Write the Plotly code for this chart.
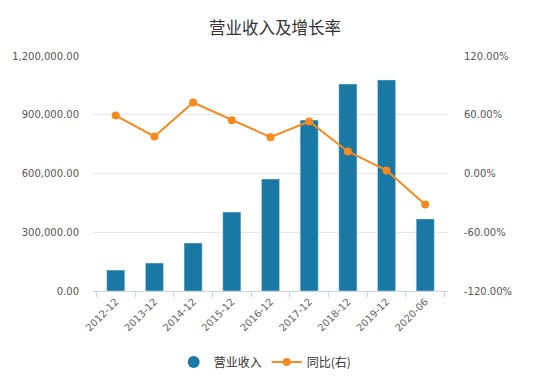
import plotly.graph_objects as go

categories = ["2012-12", "2013-12", "2014-12", "2015-12", "2016-12", "2017-12", "2018-12", "2019-12", "2020-06"]
revenue = [107000, 143000, 245000, 403000, 572000, 873000, 1057000, 1078000, 368000]
yoy = [59.2, 37.8, 72.5, 54.4, 37.1, 53.1, 22.5, 3.1, -31.7]
left_ticks = [0, 300000, 600000, 900000, 1200000]
left_labels = ["0.00", "300,000.00", "600,000.00", "900,000.00", "1,200,000.00"]
right_ticks = [-120, -60, 0, 60, 120]
right_labels = ["-120.00%", "-60.00%", "0.00%", "60.00%", "120.00%"]

bar_color = "#1a78a5"
line_color = "#f58a1f"
font = "DejaVu Sans, Noto Sans CJK SC, sans-serif"
cjk = "Noto Sans CJK SC, DejaVu Sans, sans-serif"

fig = go.Figure()
fig.add_trace(go.Bar(x=categories, y=revenue, name="营业收入", marker_color=bar_color,
                     width=0.47, showlegend=False, yaxis="y"))
fig.add_trace(go.Scatter(x=[None], y=[None], mode="markers", name="营业收入",
                         marker=dict(color=bar_color, size=12, symbol="circle"), yaxis="y"))
fig.add_trace(go.Scatter(x=categories, y=yoy, name="同比(右)", mode="lines+markers",
                         line=dict(color=line_color, width=2),
                         marker=dict(color=line_color, size=8), yaxis="y2"))

fig.update_layout(
    width=550, height=386,
    margin=dict(l=93, r=102, t=56, b=95, autoexpand=False),
    paper_bgcolor="white", plot_bgcolor="white",
    font=dict(family=font, color="#555", size=10),
    title=dict(text="营业收入及增长率", x=0.5, xanchor="center", y=0.927, yanchor="middle",
               font=dict(size=16.5, color="#333", family=cjk)),
    xaxis=dict(type="category", tickangle=-45, tickson="boundaries", ticks="outside",
               ticklen=5, tickcolor="#c9d6ea", showline=True, linecolor="#c9d6ea",
               showgrid=False, automargin=False, tickfont=dict(size=10, color="#666")),
    yaxis=dict(range=[0, 1200000], tickvals=left_ticks, ticktext=left_labels,
               showgrid=True, gridcolor="#e8e8e8", zeroline=False, showline=False,
               ticks="", automargin=False, ticklabelstandoff=13,
               tickfont=dict(size=10, color="#555")),
    yaxis2=dict(range=[-120, 120], tickvals=right_ticks, ticktext=right_labels,
                overlaying="y", side="right", showgrid=False, zeroline=False,
                ticks="", automargin=False, ticklabelstandoff=15,
                tickfont=dict(size=10, color="#555")),
    legend=dict(orientation="h", x=0.485, xanchor="center", y=-0.302, yanchor="middle",
                font=dict(size=12, color="#333", family=cjk)),
    bargap=0.5,
)

fig.write_html("out.html", config={"displayModeBar": False},
               post_script="document.body.style.margin='0';")
